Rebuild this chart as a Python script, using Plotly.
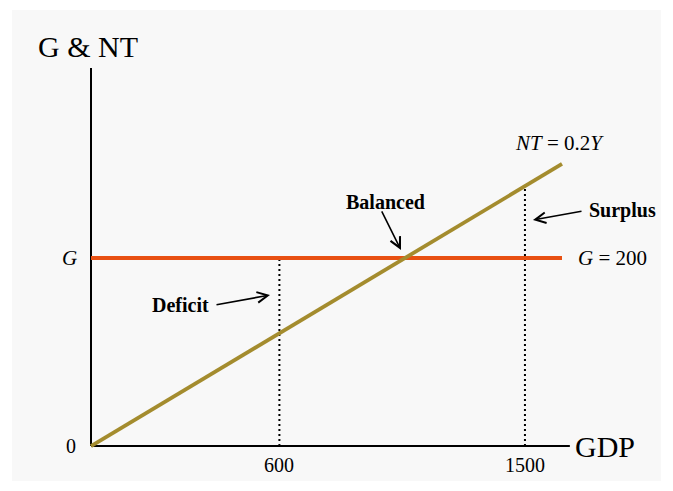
import plotly.graph_objects as go

# ---- data ----
gdp_line = [0, 1500]
nt_values = [0, 300]          # NT = 0.2Y
g_values = [200, 200]         # G = 200
deficit_gdp = 600
deficit_top = 200
surplus_gdp = 1382
surplus_top = 276
tick_positions = [600, 1382]
tick_labels = ["600", "1500"]

SERIF = "Liberation Serif, Times New Roman, serif"
G_COLOR = "#e85012"
NT_COLOR = "#a48c2e"

fig = go.Figure()

# axes drawn as lines
fig.add_trace(go.Scatter(x=[0, 0], y=[0, 402], mode="lines",
                         line=dict(color="black", width=2), hoverinfo="skip"))
fig.add_trace(go.Scatter(x=[0, 1525], y=[0, 0], mode="lines",
                         line=dict(color="black", width=2), hoverinfo="skip"))

# dotted guide lines
fig.add_trace(go.Scatter(x=[deficit_gdp, deficit_gdp], y=[0, deficit_top], mode="lines",
                         line=dict(color="black", width=2, dash="2px,3px"), hoverinfo="skip"))
fig.add_trace(go.Scatter(x=[surplus_gdp, surplus_gdp], y=[0, surplus_top], mode="lines",
                         line=dict(color="black", width=2, dash="2px,3px"), hoverinfo="skip"))

# G and NT lines
fig.add_trace(go.Scatter(x=gdp_line, y=g_values, mode="lines",
                         line=dict(color=G_COLOR, width=4), name="G"))
fig.add_trace(go.Scatter(x=gdp_line, y=nt_values, mode="lines",
                         line=dict(color=NT_COLOR, width=3.8), name="NT"))

ann = []

def text(x, y, t, size=20, xanchor="center", yanchor="middle"):
    ann.append(dict(x=x, y=y, xref="x", yref="y", text=t, showarrow=False,
                    xanchor=xanchor, yanchor=yanchor,
                    font=dict(family=SERIF, size=size, color="black")))

def arrow(x0, y0, x1, y1):
    ann.append(dict(x=x1, y=y1, ax=x0, ay=y0, xref="x", yref="y", axref="x", ayref="y",
                    text="", showarrow=True, arrowhead=5, arrowsize=1.3,
                    arrowwidth=1.6, arrowcolor="black", standoff=0, startstandoff=0))

text(-8, 424.5, "G &amp; NT", size=30)
text(1535, -1, "GDP", size=30, xanchor="left")
text(-64, 0, "0", size=20)
text(-68.5, 200, "<i>G</i>", size=21)
for p, l in zip(tick_positions, tick_labels):
    text(p, -20.2, l, size=20)
text(1492, 322.3, "<i>NT</i> = 0.2<i>Y</i>", size=21)
text(1543, 200.5, "<i>G</i> = 200", size=21, xanchor="left")
text(938, 260, "<b>Balanced</b>", size=20)
text(285, 150, "<b>Deficit</b>", size=20)
text(1693, 251, "<b>Surplus</b>", size=20)

arrow(923.6, 251.1, 987.3, 208.5)
arrow(394.9, 150, 570, 160.6)
arrow(1566.9, 250, 1407.6, 240.4)

fig.update_layout(
    width=657, height=475,
    margin=dict(l=4, r=4, t=2, b=2),
    paper_bgcolor="white",
    plot_bgcolor="#f8f8f8",
    showlegend=False,
    annotations=ann,
    xaxis=dict(range=[-251.6, 1815.3], visible=False, fixedrange=True),
    yaxis=dict(range=[-37.2, 463.8], visible=False, fixedrange=True),
)

fig.write_html("out.html")
